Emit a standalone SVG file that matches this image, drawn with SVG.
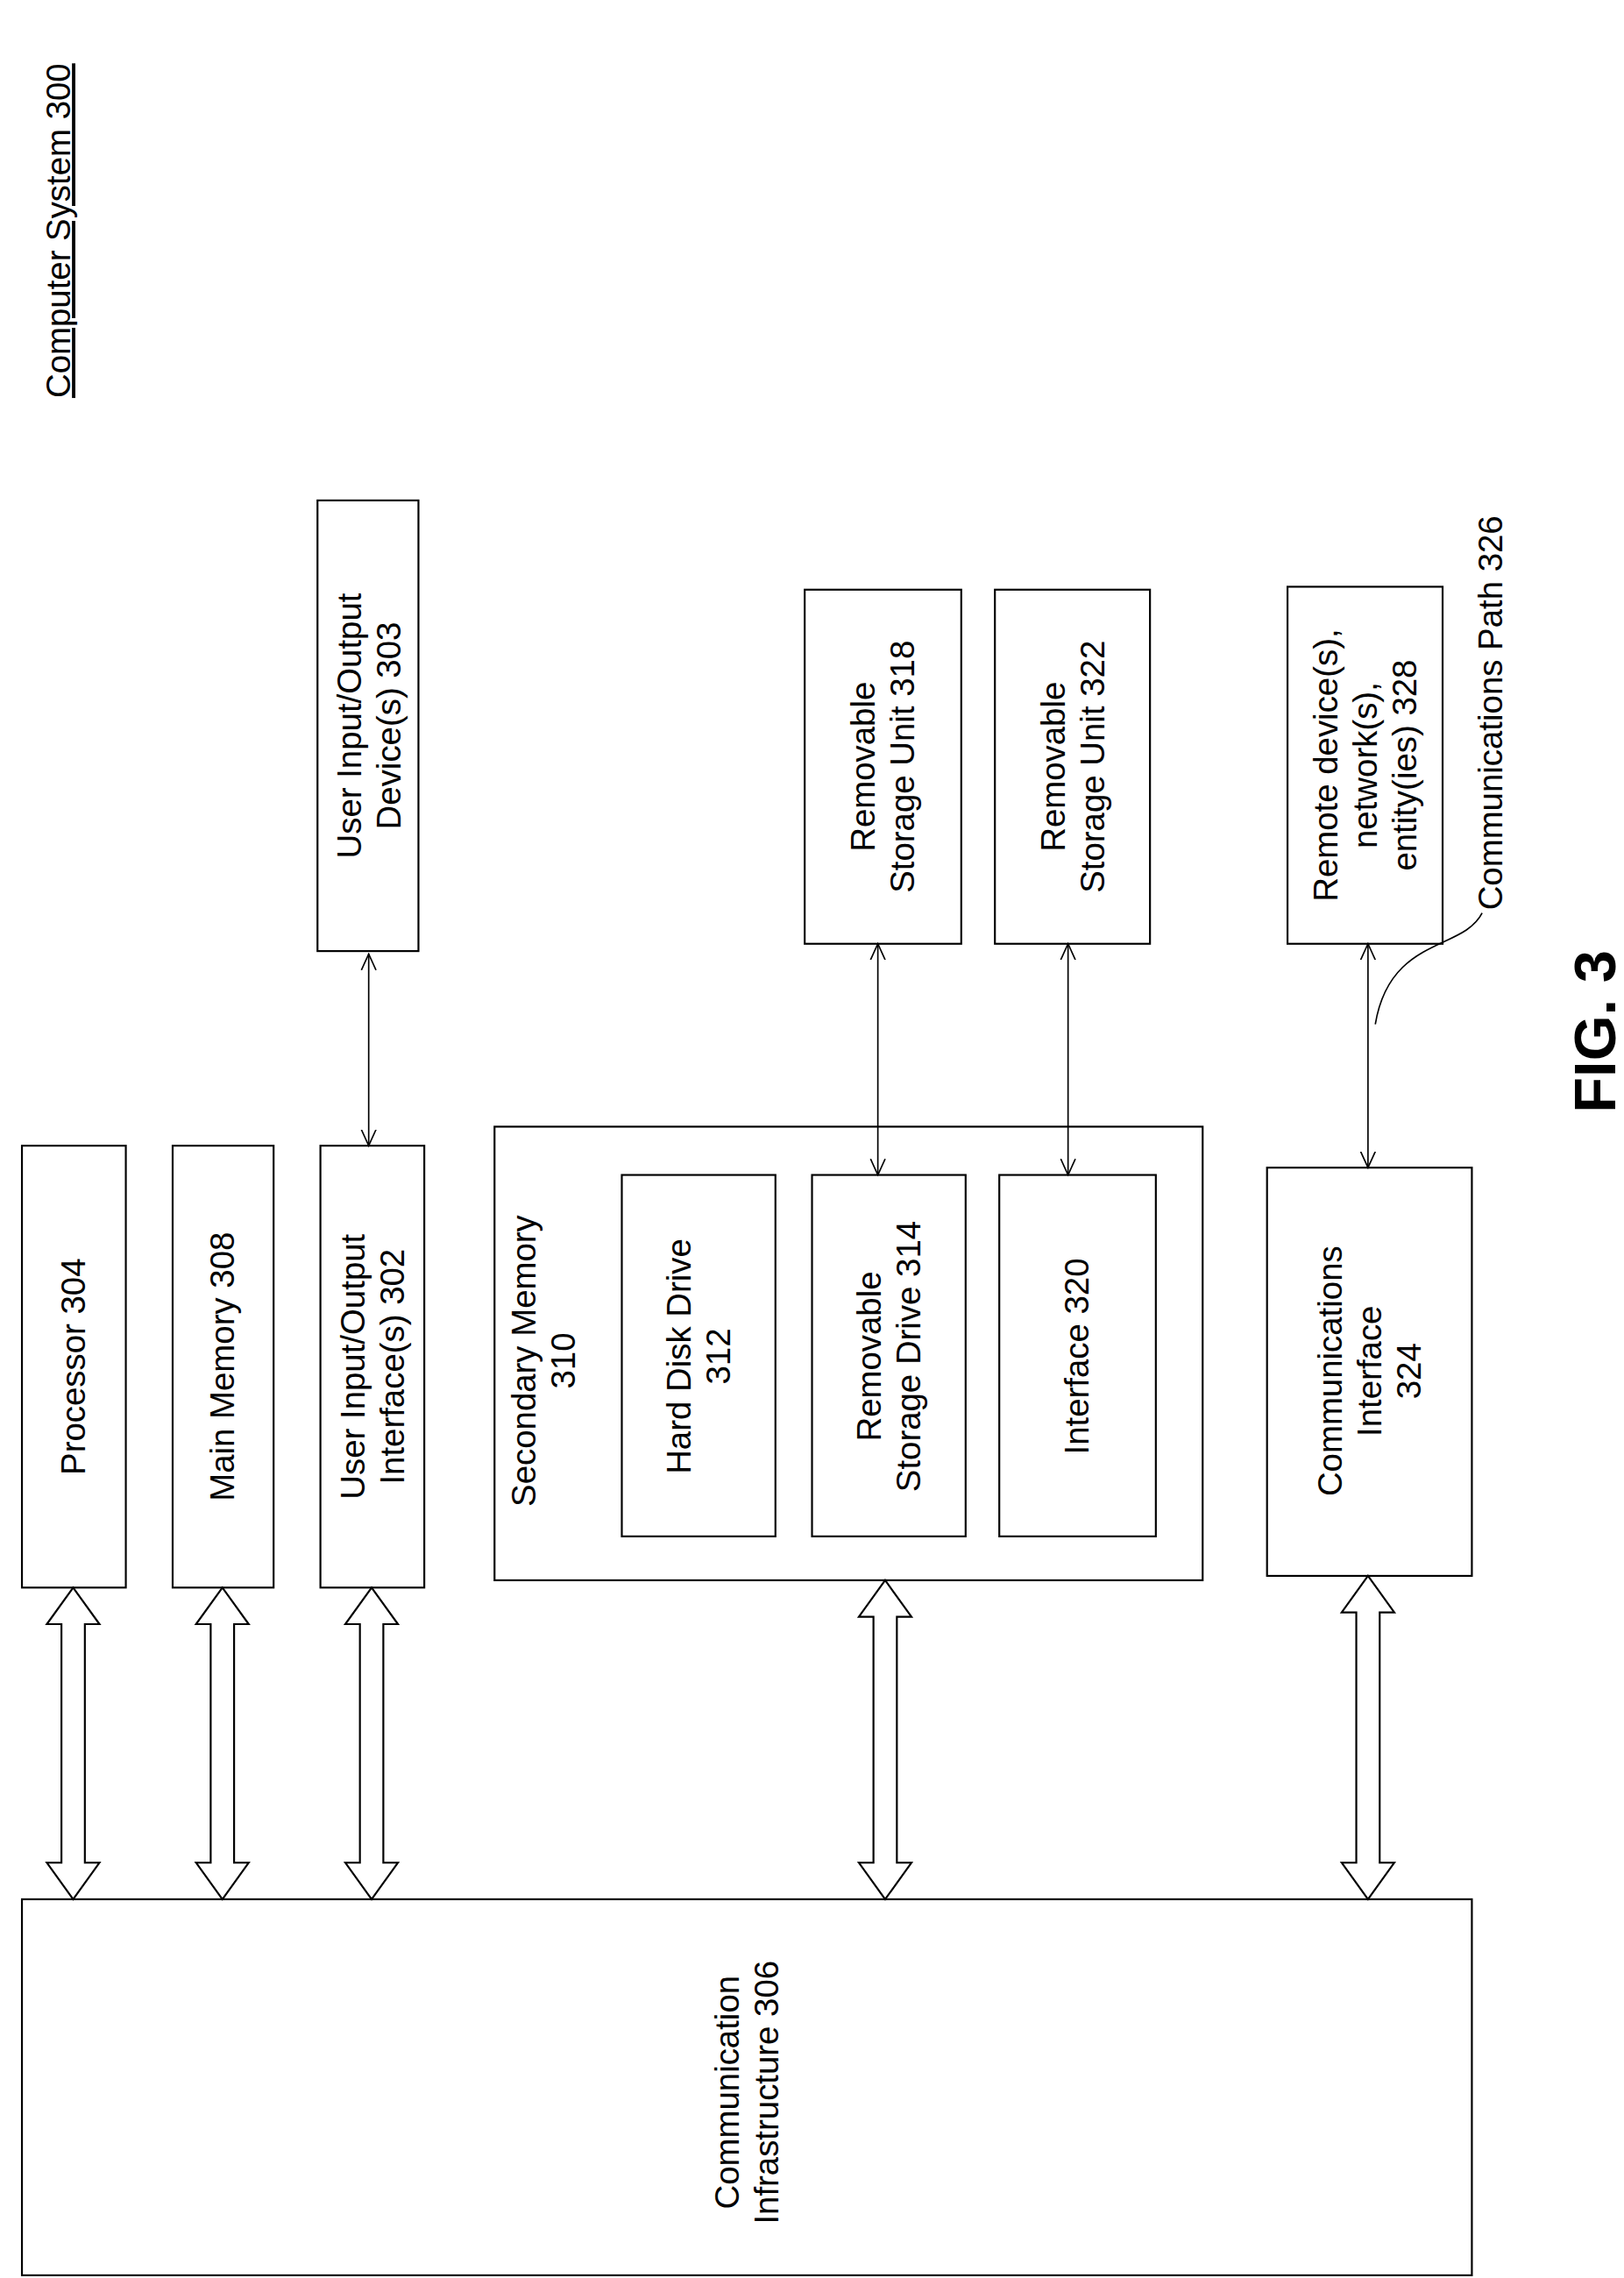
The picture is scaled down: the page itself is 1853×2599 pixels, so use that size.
<svg xmlns="http://www.w3.org/2000/svg" width="1853" height="2599" viewBox="0 0 1853 2599">
<style>
.b{fill:#fff;stroke:#000;stroke-width:1.3}
.t{font-family:"Liberation Sans",Arial,sans-serif;font-size:23px;fill:#000;text-anchor:middle}
.h{fill:#fff;stroke:#000;stroke-width:1.3}
.l{stroke:#000;stroke-width:1;fill:none}
</style>
<defs>
<marker id="a" viewBox="0 0 12 12" refX="11" refY="6" markerWidth="12" markerHeight="12" markerUnits="userSpaceOnUse" orient="auto-start-reverse"><path d="M0,1 L11,6 L0,11" fill="none" stroke="#000" stroke-width="1"/></marker>
</defs>
<rect width="1853" height="2599" fill="#fff"/>
<g transform="scale(1.6694)">
<text class="t" transform="translate(48,272) rotate(-90)" style="text-anchor:start;text-decoration:underline">Computer System 300</text>
<g id="processor"><rect class="b" x="15" y="783" width="71" height="302"/><text class="t" transform="translate(58,934) rotate(-90)">Processor 304</text></g>
<g id="mainmem"><rect class="b" x="118" y="783" width="69" height="302"/><text class="t" transform="translate(160,934) rotate(-90)">Main Memory 308</text></g>
<g id="uioif"><rect class="b" x="219" y="783" width="71" height="302"/><text class="t" transform="translate(254,934) rotate(-90)"><tspan x="0" y="-5">User Input/Output</tspan><tspan x="0" y="22">Interface(s) 302</tspan></text></g>
<g id="uiodev"><rect class="b" x="217" y="342" width="69" height="308"/><text class="t" transform="translate(252,496) rotate(-90)"><tspan x="0" y="-5">User Input/Output</tspan><tspan x="0" y="22">Device(s) 303</tspan></text></g>
<g id="secmem"><rect class="b" x="338" y="770" width="484" height="310"/><text class="t" transform="translate(368,930) rotate(-90)"><tspan x="0" y="-2">Secondary Memory</tspan><tspan x="0" y="25">310</tspan></text></g>
<g id="hdd"><rect class="b" x="425" y="803" width="105" height="247"/><text class="t" transform="translate(477,927) rotate(-90)"><tspan x="0" y="-5">Hard Disk Drive</tspan><tspan x="0" y="22">312</tspan></text></g>
<g id="rsd"><rect class="b" x="555" y="803" width="105" height="247"/><text class="t" transform="translate(607,927) rotate(-90)"><tspan x="0" y="-5">Removable</tspan><tspan x="0" y="22">Storage Drive 314</tspan></text></g>
<g id="if320"><rect class="b" x="683" y="803" width="107" height="247"/><text class="t" transform="translate(736,927) rotate(-90)"><tspan x="0" y="8">Interface 320</tspan></text></g>
<g id="rsu318"><rect class="b" x="550" y="403" width="107" height="242"/><text class="t" transform="translate(603,524) rotate(-90)"><tspan x="0" y="-5">Removable</tspan><tspan x="0" y="22">Storage Unit 318</tspan></text></g>
<g id="rsu322"><rect class="b" x="680" y="403" width="106" height="242"/><text class="t" transform="translate(733,524) rotate(-90)"><tspan x="0" y="-5">Removable</tspan><tspan x="0" y="22">Storage Unit 322</tspan></text></g>
<g id="remote"><rect class="b" x="880" y="401" width="106" height="244"/><text class="t" transform="translate(933,523) rotate(-90)"><tspan x="0" y="-19">Remote device(s),</tspan><tspan x="0" y="8">network(s),</tspan><tspan x="0" y="35">entity(ies) 328</tspan></text></g>
<g id="commif"><rect class="b" x="866" y="798" width="140" height="279"/><text class="t" transform="translate(936,937) rotate(-90)"><tspan x="0" y="-19">Communications</tspan><tspan x="0" y="8">Interface</tspan><tspan x="0" y="35">324</tspan></text></g>
<g id="infra"><rect class="b" x="15" y="1298" width="991" height="257"/><text class="t" transform="translate(510,1430) rotate(-90)"><tspan x="0" y="-5">Communication</tspan><tspan x="0" y="22">Infrastructure 306</tspan></text></g>
<text class="t" transform="translate(1027,622) rotate(-90)" style="text-anchor:start">Communications Path 326</text>
<text class="t" transform="translate(1104,705) rotate(-90)" style="font-size:40px;font-weight:bold">FIG. 3</text>
<g id="connectors">
<line class="l" x1="252" y1="652" x2="252" y2="783" marker-start="url(#a)" marker-end="url(#a)"/>
<line class="l" x1="600" y1="645" x2="600" y2="803" marker-start="url(#a)" marker-end="url(#a)"/>
<line class="l" x1="730" y1="645" x2="730" y2="803" marker-start="url(#a)" marker-end="url(#a)"/>
<line class="l" x1="935" y1="645" x2="935" y2="798" marker-start="url(#a)" marker-end="url(#a)"/>
<path class="l" d="M1013,624 C1000,650 950,640 940,700"/>
<path class="h" d="M50,1085 L68,1110 L58,1110 L58,1273 L68,1273 L50,1298 L32,1273 L42,1273 L42,1110 L32,1110 Z"/>
<path class="h" d="M152,1085 L170,1110 L160,1110 L160,1273 L170,1273 L152,1298 L134,1273 L144,1273 L144,1110 L134,1110 Z"/>
<path class="h" d="M254,1085 L272,1110 L262,1110 L262,1273 L272,1273 L254,1298 L236,1273 L246,1273 L246,1110 L236,1110 Z"/>
<path class="h" d="M605,1080 L623,1105 L613,1105 L613,1273 L623,1273 L605,1298 L587,1273 L597,1273 L597,1105 L587,1105 Z"/>
<path class="h" d="M935,1077 L953,1102 L943,1102 L943,1273 L953,1273 L935,1298 L917,1273 L927,1273 L927,1102 L917,1102 Z"/>
</g>
</g>
</svg>
